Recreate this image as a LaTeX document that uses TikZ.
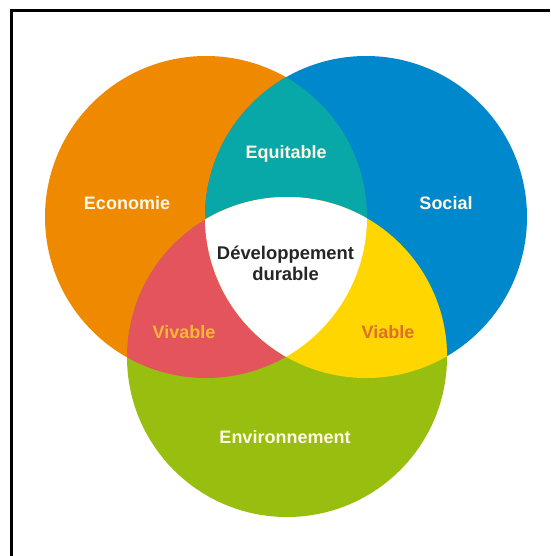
\documentclass[tikz,border=0pt]{standalone}
\usepackage{fontspec}
\setmainfont{Liberation Sans}
\definecolor{corange}{RGB}{238,137,0}
\definecolor{cblue}{RGB}{0,136,204}
\definecolor{cteal}{RGB}{8,168,168}
\definecolor{cgreen}{RGB}{152,190,16}
\definecolor{cred}{RGB}{228,84,92}
\definecolor{cyellow}{RGB}{255,214,0}
\definecolor{cvivable}{RGB}{248,184,52}
\definecolor{cviable}{RGB}{224,110,46}
\definecolor{ccream}{RGB}{255,248,228}
\tikzset{
  lbl/.style={font=\fontsize{18}{21}\selectfont\bfseries, inner sep=0pt, anchor=center},
}
\begin{document}
\begin{tikzpicture}[x=1pt,y=-1pt]
\useasboundingbox (0,0) rectangle (550,556);
\fill[white] (0,0) rectangle (550,556);
\def\orangepath{(206,217) circle (161)}
\def\bluepath{(366,217) circle (161)}
\def\greenpath{(287,357) circle (160)}
\fill[corange] \orangepath;
\fill[cblue] \bluepath;
\fill[cgreen] \greenpath;
\begin{scope}
  \clip \orangepath;
  \fill[cteal] \bluepath;
  \fill[cred] \greenpath;
\end{scope}
\begin{scope}
  \clip \bluepath;
  \fill[cyellow] \greenpath;
\end{scope}
\begin{scope}
  \clip \orangepath;
  \clip \bluepath;
  \fill[white] \greenpath;
\end{scope}
\draw[line width=2.8pt, black] (11.3,556) -- (11.3,10.5) -- (550,10.5);
\node[lbl, text=ccream] (eco) at (127,203) {Economie};
\node[lbl, text=ccream] (equ) at (286,154) {Equitable};
\node[lbl, text=ccream] (soc) at (446,203) {Social};
\node[lbl, text=ccream] (env) at (285,437) {Environnement};
\node[lbl, text=cvivable] (viv) at (184,332) {Vivable};
\node[lbl, text=cviable] (via) at (388,332) {Viable};
\node[lbl, text=black!85, align=center, font=\fontsize{18.4}{21}\selectfont\bfseries] (dd) at (285.5,263.5) {Développement\\durable};
\end{tikzpicture}
\end{document}
